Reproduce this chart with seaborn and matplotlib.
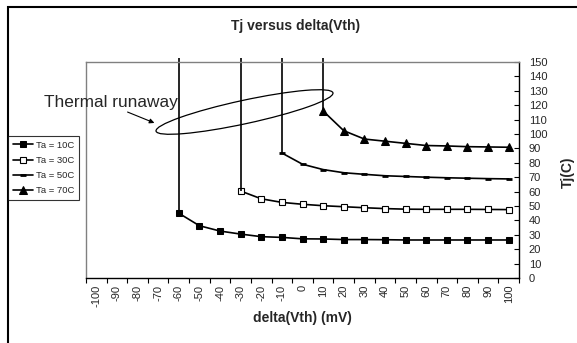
import matplotlib
matplotlib.use("Agg")
import matplotlib.pyplot as plt
import pandas as pd
import seaborn as sns
from matplotlib.patches import Ellipse, FancyArrowPatch, Rectangle

# Threshold-voltage shift (mV), one category every 10 mV
delta_vth = list(range(-100, 101, 10))
tick_labels = [str(v) for v in delta_vth]

# Junction temperature (C) for each ambient, from the first stable point up to +100 mV
tj_ta10 = [45.0, 36.3, 32.6, 30.5, 28.7, 28.2, 27.2, 27.1, 26.7, 26.7, 26.6,
           26.4, 26.4, 26.4, 26.4, 26.4, 26.4]
tj_ta30 = [60.4, 55.0, 52.5, 51.2, 50.2, 49.5, 48.8, 48.2, 47.8, 47.7, 47.7,
           47.7, 47.6, 47.5]
tj_ta50 = [86.8, 79.0, 75.3, 73.1, 72.0, 71.0, 70.5, 70.0, 69.6, 69.3, 69.0, 68.8]
tj_ta70 = [116.0, 102.3, 96.5, 95.0, 93.5, 92.0, 91.7, 91.2, 91.0, 90.8]

series_names = ["Ta = 10C", "Ta = 30C", "Ta = 50C", "Ta = 70C"]
series_values = [tj_ta10, tj_ta30, tj_ta50, tj_ta70]

frames = []
for name, vals in zip(series_names, series_values):
    frames.append(pd.DataFrame({"delta": delta_vth[-len(vals):], "tj": vals, "series": name}))
df = pd.concat(frames, ignore_index=True)

sns.set_theme(style="white")
plt.rcParams["font.family"] = ["Liberation Sans", "DejaVu Sans"]

W, H = 577, 343
fig = plt.figure(figsize=(W / 100, H / 100), dpi=100)
fig.patch.set_facecolor("white")
ax = fig.add_axes([86 / W, 65 / H, 433 / W, 216 / H])

styles = {
    "Ta = 10C": dict(marker="s", markersize=4.8, markerfacecolor="black", markeredgecolor="black"),
    "Ta = 30C": dict(marker="s", markersize=4.8, markerfacecolor="white", markeredgecolor="black",
                     markeredgewidth=0.8),
    "Ta = 50C": dict(marker="_", markersize=4, markeredgewidth=2.0, markeredgecolor="black"),
    "Ta = 70C": dict(marker="^", markersize=5.5, markerfacecolor="black", markeredgecolor="black"),
}

YMAX = 150
handles = []
for name in series_names:
    sub = df[df["series"] == name]
    sns.lineplot(data=sub, x="delta", y="tj", ax=ax, color="black", linewidth=1.2,
                 label=name, **styles[name])
    # runaway: the curve shoots off the top of the scale at its first stable point
    x0, y0 = sub["delta"].iloc[0], sub["tj"].iloc[0]
    ax.plot([x0, x0], [y0, YMAX + 2.8], color="black", linewidth=1.2, clip_on=False,
            solid_capstyle="butt")

handles, labels = ax.get_legend_handles_labels()
ax.get_legend().remove()

ax.set_xlim(-105, 105)
ax.set_ylim(0, YMAX)

# x axis: category boundaries carry the tick marks, category centres carry the labels
ax.set_xticks(list(range(-105, 106, 10)))
ax.set_xticklabels([])
ax.set_xticks(delta_vth, minor=True)
ax.set_xticklabels(tick_labels, minor=True, rotation=90, fontsize=8)
ax.tick_params(axis="x", which="major", direction="out", length=3.5, width=0.8,
               color="black", bottom=True)
ax.tick_params(axis="x", which="minor", length=0, pad=5, bottom=True)

# y axis on the right
ax.yaxis.tick_right()
ax.set_yticks(list(range(0, 151, 10)))
ax.tick_params(axis="y", direction="in", length=3.5, width=0.8, color="black",
               labelsize=8, pad=7, right=True, left=False)

for side in ("top", "left"):
    ax.spines[side].set_color("#808080")
    ax.spines[side].set_linewidth(1.0)
for side in ("bottom", "right"):
    ax.spines[side].set_color("black")
    ax.spines[side].set_linewidth(1.0)
ax.grid(False)

ax.set_xlabel("delta(Vth) (mV)", fontsize=10, fontweight="bold")
ax.xaxis.set_label_coords((302 - 86) / 433, (278 - 318) / 216)
ax.xaxis.label.set_va("center")
ax.yaxis.set_label_position("right")
ax.set_ylabel("Tj(C)", fontsize=10, fontweight="bold", rotation=90)
ax.yaxis.set_label_coords((568 - 86) / 433, (278 - 172) / 216)
ax.yaxis.label.set_va("center")

fig.text(296 / W, 1 - 26 / H, "Tj versus delta(Vth)", ha="center", va="center",
         fontsize=10, fontweight="bold")

leg = fig.legend(handles, labels, loc="upper left", bbox_to_anchor=(8 / W, 1 - 136 / H),
                 bbox_transform=fig.transFigure, borderaxespad=0, frameon=True,
                 fancybox=False, edgecolor="black", fontsize=6.8, handlelength=2.15,
                 handletextpad=0.35, borderpad=0.5, labelspacing=0.65)
leg.get_frame().set_linewidth(0.8)

# chart-area border
fig.add_artist(Rectangle((8 / W, -0.2), 1.2, (H - 7) / H + 0.2, transform=fig.transFigure,
                         fill=False, edgecolor="black", linewidth=1.5))

# thermal runaway callout
fig.text(44 / W, 1 - 107 / H, "Thermal runaway", ha="left", va="baseline", fontsize=12.4)
px = fig.dpi_scale_trans
fig.add_artist(Ellipse((244.5 / 100, (H - 112) / 100), 181 / 100, 23.4 / 100, angle=12.2,
                       transform=px, fill=False, edgecolor="black", linewidth=0.9))
fig.add_artist(FancyArrowPatch((125 / 100, (H - 111) / 100), (157 / 100, (H - 124) / 100),
                               transform=px, arrowstyle="-|>", mutation_scale=7,
                               color="black", linewidth=0.8))

fig.savefig("out.png", dpi=100)
